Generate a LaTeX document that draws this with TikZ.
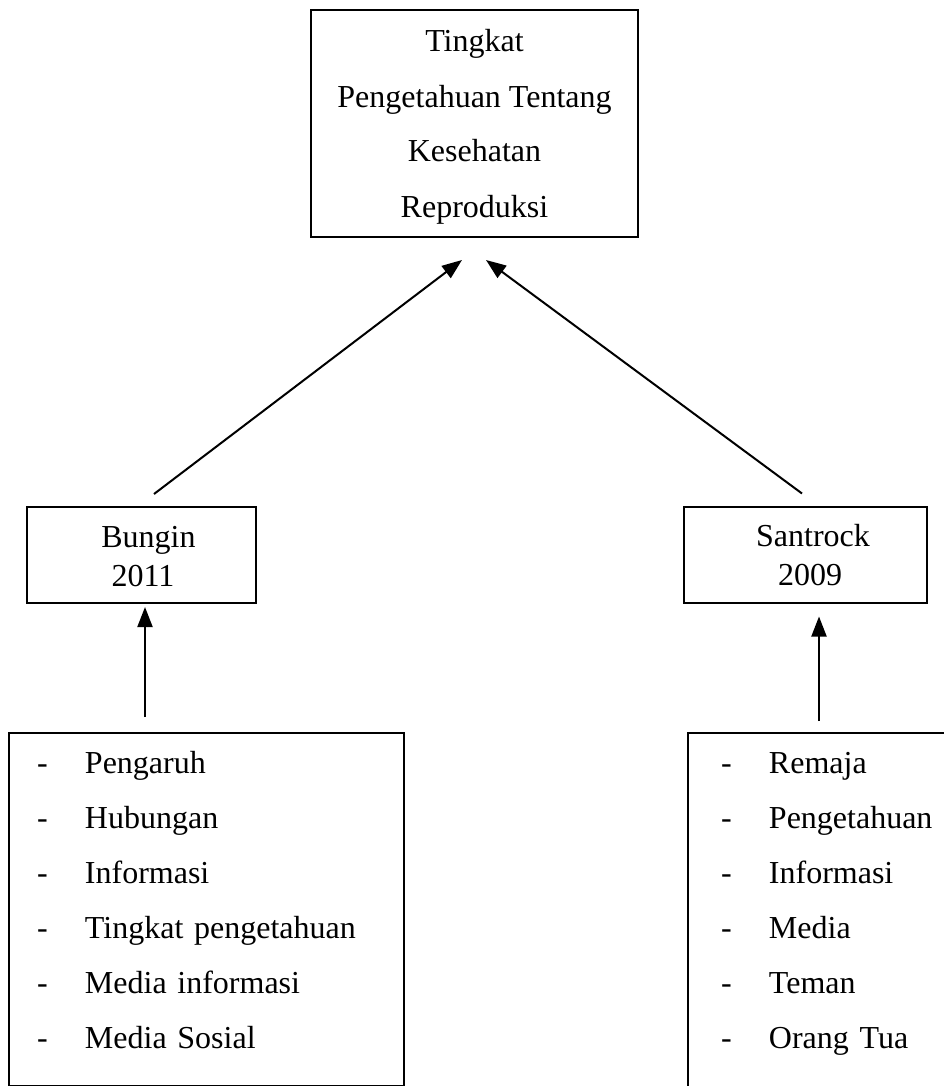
\documentclass[tikz,border=0pt]{standalone}
\usepackage{fontspec}
\setmainfont{Liberation Serif}
\usetikzlibrary{arrows.meta,calc}
\begin{document}
\begin{tikzpicture}[x=1pt,y=-1pt,
  box/.style={draw,line width=2pt,rectangle,inner xsep=4pt},
  arr/.style={line width=2pt,-{Triangle[length=20pt,width=15pt]}},
  bigtext/.style={font=\fontsize{32}{55}\selectfont},
  smalltext/.style={font=\fontsize{32}{39}\selectfont},
  listbox/.style={draw,line width=2pt,rectangle,align=left,inner ysep=15pt,font=\fontsize{32}{55}\selectfont}]
\useasboundingbox (0,0) rectangle (944,1086);
\clip (0,0) rectangle (944,1086);
\newcommand{\itm}[1]{\makebox[48pt][l]{-}#1}
% top box
\node[box,bigtext,align=center,inner ysep=10pt,minimum width=327pt,minimum height=227pt] (top) at (474.5,123.5)
  {\rule{0pt}{32pt}Tingkat\\Pengetahuan Tentang\\Kesehatan\\Reproduksi\rule[-10pt]{0pt}{10pt}};
% middle boxes
\node[box,smalltext,align=center,inner ysep=8pt,minimum width=229pt,minimum height=96pt] (bungin) at (141.5,555)
  {\rule{0pt}{32pt}\hspace*{14pt}Bungin\\\hspace*{3pt}2011\rule[-9pt]{0pt}{9pt}};
\node[box,smalltext,align=center,inner ysep=8pt,minimum width=243pt,minimum height=95pt] (santrock) at (805.5,554.5)
  {\rule{0pt}{32pt}\hspace*{15pt}Santrock\\\hspace*{9pt}2009\rule[-9pt]{0pt}{9pt}};
% list boxes
\node[listbox,anchor=north west,inner xsep=28pt,text width=339pt] (listL) at (8,732)
  {\rule{0pt}{25pt}\itm{Pengaruh}\\\itm{Hubungan}\\\itm{Informasi}\\\itm{Tingkat pengetahuan}\\\itm{Media informasi}\\\itm{Media Sosial}\rule[-23pt]{0pt}{23pt}};
\node[listbox,anchor=north west,inner xsep=33pt,text width=300pt] (listR) at (687,732)
  {\rule{0pt}{25pt}\itm{Remaja}\\\itm{Pengetahuan}\\\itm{Informasi}\\\itm{Media}\\\itm{Teman}\\\itm{Orang Tua}\rule[-70pt]{0pt}{70pt}};
% arrows
\draw[arr] ($(bungin.north)+(12.5,-12)$) -- ($(top.south)+(-12.5,22)$);
\draw[arr] ($(santrock.north)+(-3.5,-12)$) -- ($(top.south)+(11.5,22)$);
\coordinate (tL) at ($(listL.north)+(-61.5,-15)$);
\coordinate (tR) at ($(listR.north west)+(132,-11)$);
\draw[arr] (tL) -- ($(tL |- bungin.south)+(0,3)$);
\draw[arr] (tR) -- ($(tR |- santrock.south)+(0,13)$);
\end{tikzpicture}
\end{document}
